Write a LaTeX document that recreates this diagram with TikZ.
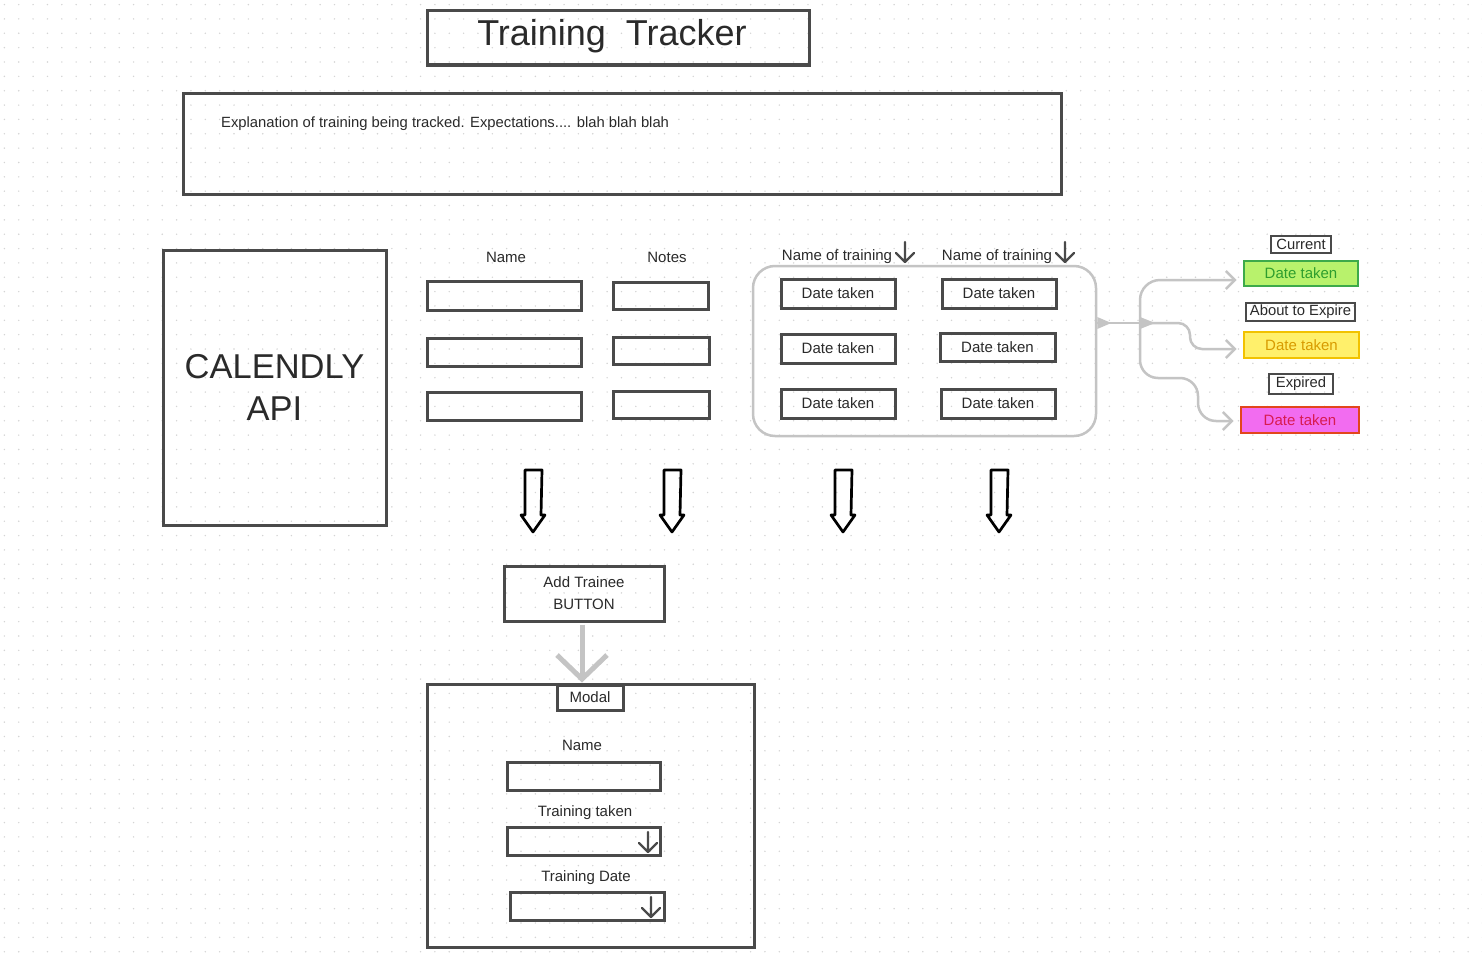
\documentclass[tikz,border=0pt]{standalone}
\usepackage{fontspec}
\setmainfont{Liberation Sans}
\usetikzlibrary{arrows.meta}
\definecolor{ink}{HTML}{2A2A2A}
\definecolor{edge}{HTML}{4A4A4A}
\definecolor{soft}{HTML}{C4C4C4}
\definecolor{dotc}{HTML}{D4D4D4}
\definecolor{curfill}{HTML}{B8F26C}
\definecolor{curedge}{HTML}{3DAA4A}
\definecolor{curtext}{HTML}{2E9E2E}
\definecolor{soonfill}{HTML}{FFF06B}
\definecolor{soonedge}{HTML}{F2C200}
\definecolor{soontext}{HTML}{D89B00}
\definecolor{expfill}{HTML}{F26CF0}
\definecolor{expedge}{HTML}{E2461C}
\definecolor{exptext}{HTML}{D81B50}
\tikzset{
	txt/.style={text=ink, inner sep=0pt, font=\fontsize{15}{22}\selectfont},
	box/.style={txt, draw=edge, line width=3pt},
	group/.style={draw=soft, line width=2.5pt, rounded corners=22pt},
	tag/.style={txt, draw=edge, line width=2.2pt, font=\fontsize{14.8}{17}\selectfont},
	status/.style={txt, line width=2.8pt, font=\fontsize{15}{17}\selectfont},
	flow/.style={draw=soft, line width=2.5pt, -{Straight Barb[length=9pt,width=18pt]}, shorten >=6pt},
	bigflow/.style={draw=soft, line width=5pt, -{Straight Barb[length=24pt,width=50pt]}},
	hollow/.style={draw=black, line width=2.7pt, line join=round},
	dropdown/.pic={\draw[edge, line width=2.2pt, line cap=round, line join=round] (0,-10) -- (0,10) (-9,1) -- (0,10) -- (9,1);}
}
\begin{document}
\begin{tikzpicture}[x=1pt,y=-1pt]
	\useasboundingbox[fill=white] (0,0) rectangle (1482,958);
	\foreach \i in {0,...,103}
		\foreach \j in {0,...,66}
			\fill[dotc] (4.4+14.35*\i,4.6+14.35*\j) circle (0.8pt);
	
	\node[box, minimum width=382, minimum height=54] (title) at (618,38) {};
	\node[txt, font=\fontsize{36}{40}\selectfont] (titletext) at (612,36) {Training~~Tracker};
	\node[box, minimum width=878, minimum height=101] (desc) at (622,143.5) {};
	\node[txt, anchor=west, font=\fontsize{14.8}{16}\selectfont] (desctext) at (221,124) {Explanation of training being tracked. Expectations.... blah blah blah};
	\node[box, minimum width=223, minimum height=275, align=center, font=\fontsize{34.5}{42}\selectfont] (calendly) at (274.5,387.5) {CALENDLY\\API};
	
	\node[txt] (namehead) at (506,257) {Name};
	\node[txt] (noteshead) at (667,257) {Notes};
	\node[box, minimum width=154, minimum height=29] (name1) at (504,296) {};
	\node[box, minimum width=154, minimum height=28] (name2) at (504,352) {};
	\node[box, minimum width=154, minimum height=28] (name3) at (504.5,406) {};
	\node[box, minimum width=95, minimum height=27] (notes1) at (660.5,295.5) {};
	\node[box, minimum width=96, minimum height=27] (notes2) at (661,350.5) {};
	\node[box, minimum width=96, minimum height=27] (notes3) at (661,404.5) {};
	
	\node[group, minimum width=343, minimum height=170] (group) at (924.5,351) {};
	\node[txt] (train1) at (837,257) {Name of training};
	\node[txt] (train2) at (997,257) {Name of training};
	\pic at (905,252) {dropdown};
	\pic at (1065,252) {dropdown};
	\node[box, minimum width=114, minimum height=29] (date11) at (838,293.5) {Date taken};
	\node[box, minimum width=114, minimum height=29] (date12) at (838,348.5) {Date taken};
	\node[box, minimum width=114, minimum height=29] (date13) at (838,403.5) {Date taken};
	\node[box, minimum width=114, minimum height=29] (date21) at (999,293.5) {Date taken};
	\node[box, minimum width=115, minimum height=28] (date22) at (997.5,347) {Date taken};
	\node[box, minimum width=114, minimum height=29] (date23) at (998,403.5) {Date taken};
	
	\node[tag, minimum width=60, minimum height=17] (curlabel) at (1301,244.5) {Current};
	\node[status, fill=curfill, draw=curedge, text=curtext, minimum width=114, minimum height=25] (cur) at (1301,273.5) {Date taken};
	\node[tag, minimum width=109, minimum height=18] (soonlabel) at (1300.5,312) {About to Expire};
	\node[status, fill=soonfill, draw=soonedge, text=soontext, minimum width=115, minimum height=26] (soon) at (1301.5,345) {Date taken};
	\node[tag, minimum width=64, minimum height=20] (explabel) at (1301,384) {Expired};
	\node[status, fill=expfill, draw=expedge, text=exptext, minimum width=118, minimum height=26] (exp) at (1300,420) {Date taken};
	
	\coordinate (split) at (1140,323);
	\draw[soft, line width=2.5pt] (group.east |- split) -- (split);
	\fill[soft] (group.east |- split) ++(0,-6) -- ++(14,6) -- ++(-14,6) -- cycle;
	\fill[soft] (split) ++(0,-6) -- ++(15,6) -- ++(-15,6) -- cycle;
	\draw[flow, rounded corners=20pt] (split) |- ([yshift=-6.5pt]cur.west);
	\draw[flow, rounded corners=12pt] (split) -- (1190,323) -- (1190,349) -- ([yshift=-4pt]soon.west);
	\draw[flow, rounded corners=18pt] (split) -- (1140,378) -- (1198,378) -- (1198,421) -- ([yshift=-1pt]exp.west);
	
	\foreach \x in {533,672,843,999}
		\draw[hollow] (\x-8,470) -- (\x+9,470) -- (\x+8,515) -- (\x+12,515) -- (\x,532) -- (\x-12,515) -- (\x-8,515) -- cycle;
	
	\node[box, minimum width=160, minimum height=55, align=center] (button) at (584,593.5) {Add Trainee\\BUTTON};
	\node[box, minimum width=327, minimum height=263] (modal) at (590.5,815.5) {};
	\draw[bigflow] ([xshift=-2pt,yshift=-2pt]button.south) -- ([xshift=-2pt]button.south |- modal.north);
	\node[box, fill=white, minimum width=66, minimum height=25] (tab) at (590,697.5) {Modal};
	\node[txt] (mnamehead) at (582,745) {Name};
	\node[box, minimum width=153, minimum height=28] (mname) at (583.5,776) {};
	\node[txt] (mtrainhead) at (585,813) {Training taken};
	\node[box, minimum width=153, minimum height=28] (mtrain) at (583.5,841) {};
	\pic at (648,842) {dropdown};
	\node[txt] (mdatehead) at (586,878) {Training Date};
	\node[box, minimum width=154, minimum height=28] (mdate) at (587,906) {};
	\pic at (651,907) {dropdown};
\end{tikzpicture}
\end{document}
